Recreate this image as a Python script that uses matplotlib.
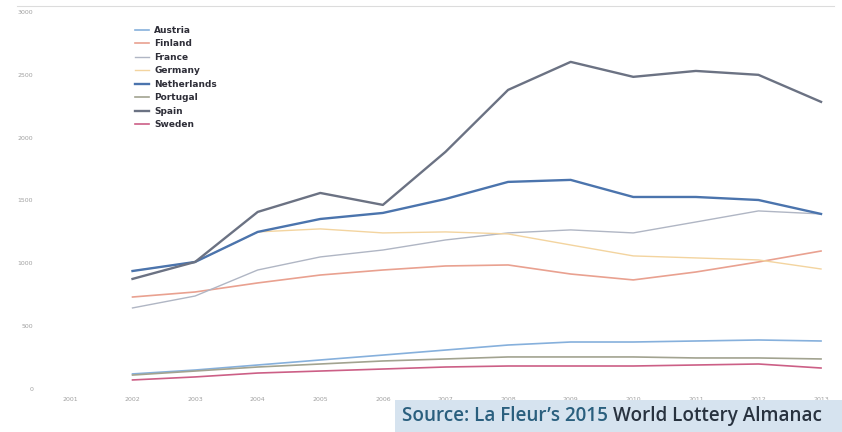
import matplotlib.pyplot as plt
from matplotlib.patches import Rectangle

# ---- data (sales in EUR million) ----
years = ['2001', '2002', '2003', '2004', '2005', '2006', '2007',
         '2008', '2009', '2010', '2011', '2012', '2013']
# series start at the 2nd category (2002)
austria     = [120, 151, 191, 231, 270, 310, 350, 374, 374, 382, 390, 382]
finland     = [732, 772, 844, 907, 947, 979, 987, 915, 868, 931, 1011, 1098]
france      = [645, 740, 947, 1051, 1106, 1186, 1242, 1266, 1242, 1329, 1417, 1393]
germany     = [939, 1011, 1250, 1274, 1242, 1250, 1234, 1146, 1059, 1043, 1027, 955]
netherlands = [939, 1011, 1250, 1353, 1401, 1512, 1648, 1664, 1528, 1528, 1504, 1393]
portugal    = [111, 143, 175, 199, 223, 239, 255, 255, 255, 247, 247, 239]
spain       = [876, 1011, 1409, 1560, 1465, 1887, 2380, 2603, 2484, 2531, 2500, 2285]
sweden      = [72, 96, 127, 143, 159, 175, 183, 183, 183, 191, 199, 167]

names = ['Austria', 'Finland', 'France', 'Germany', 'Netherlands', 'Portugal', 'Spain', 'Sweden']
series = [austria, finland, france, germany, netherlands, portugal, spain, sweden]
colors = ['#86b0dc', '#e9a190', '#b0b6c4', '#f3d49f', '#4b74ad', '#a2a390', '#6b7283', '#cc5f86']
widths = [1.2, 1.2, 1.0, 1.0, 1.7, 1.2, 1.7, 1.2]

fig = plt.figure(figsize=(8.42, 4.32), dpi=100)
ax = fig.add_axes([38 / 842, 43 / 432, 804 / 842, 377 / 432])

x = list(range(1, len(years)))
for name, vals, c, lw in zip(names, series, colors, widths):
    ax.plot(x, vals, color=c, lw=lw, label=name)

ax.set_xlim(-0.51, 12.335)
ax.set_ylim(0, 3000)
ax.set_xticks(range(len(years)))
ax.set_xticklabels(years)
ax.set_yticks(range(0, 3001, 500))
ax.tick_params(axis='both', length=0, labelsize=4.5, colors='#a0a0a0')
ax.tick_params(axis='x', pad=6)
for s in ax.spines.values():
    s.set_visible(False)

leg = ax.legend(loc='upper left', bbox_to_anchor=(0.11, 0.985), frameon=False,
                handlelength=1.6, handletextpad=0.6, labelspacing=0.5,
                prop={'size': 6.5, 'weight': 'bold'})
for t in leg.get_texts():
    t.set_color('#2e2e38')

# faint top border of the original slide
fig.add_artist(plt.Line2D([0.02, 0.99], [0.985, 0.985], color='#dcdcdc', lw=0.8,
                          transform=fig.transFigure))

# source box
fig.add_artist(Rectangle((395 / 842, 0), 447 / 842, 32 / 432, transform=fig.transFigure,
                         facecolor='#d6e3ef', edgecolor='none'))
t1 = fig.text(402 / 842, 16 / 432, "Source: La Fleur\u2019s 2015 ", fontsize=13.6,
              family='Open Sans', weight='semibold', color='#2a5f7e', va='center')
fig.canvas.draw()
bb = t1.get_window_extent()
fig.text(bb.x1 / fig.bbox.width, 16 / 432, "World Lottery Almanac", fontsize=13.6,
         family='Open Sans', weight='semibold', color='#28323f', va='center')

fig.savefig('out.png', dpi=100)
